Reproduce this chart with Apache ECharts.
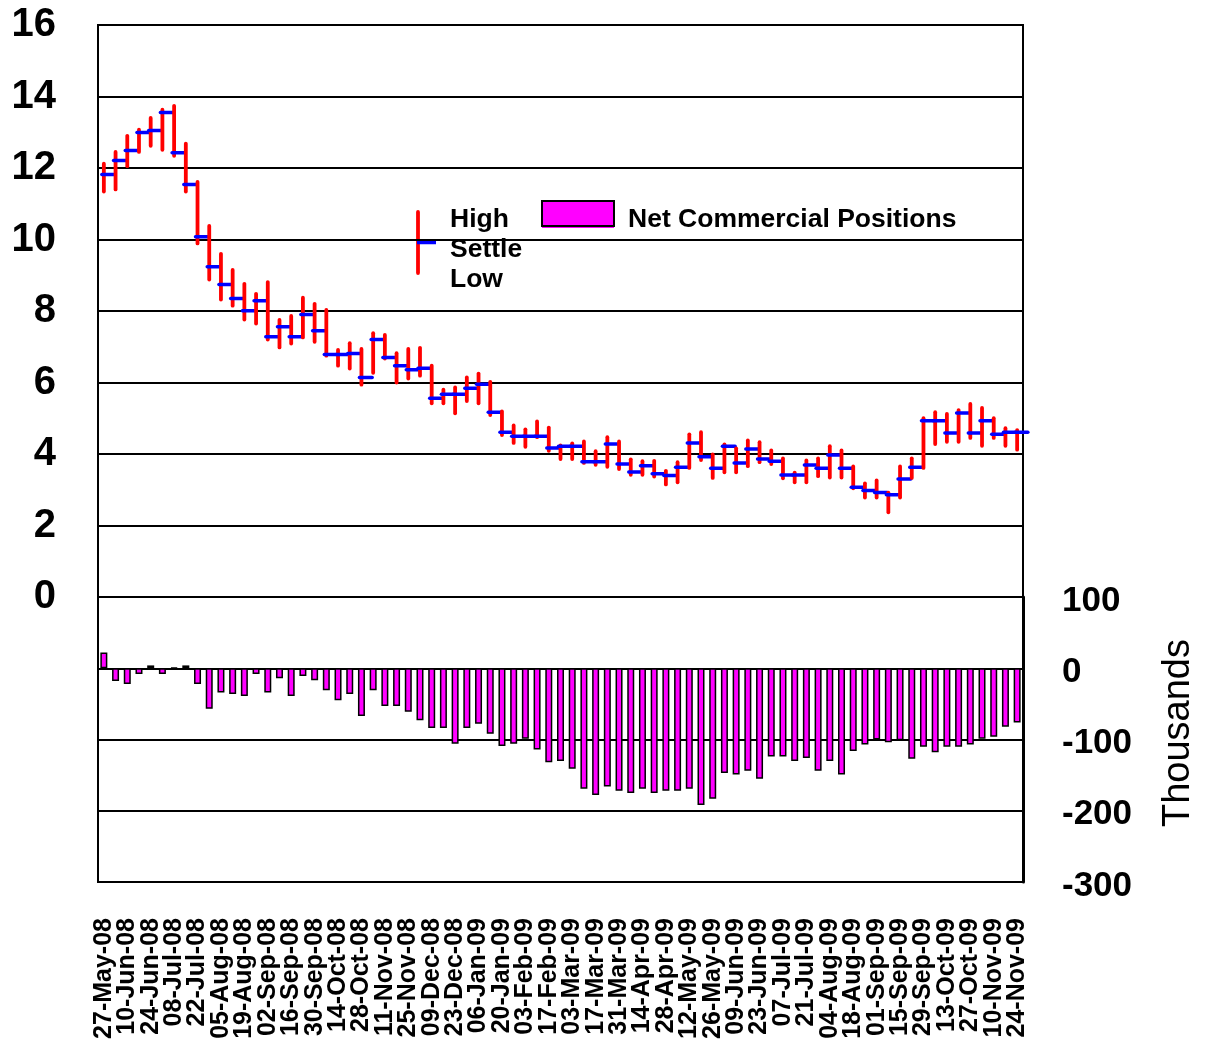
<!DOCTYPE html>
<html>
<head>
<meta charset="utf-8">
<script src="https://cdn.jsdelivr.net/npm/echarts@6/dist/echarts.min.js"></script>
<style>
html,body{margin:0;padding:0;background:#fff;}
#chart{width:1207px;height:1045px;}
</style>
</head>
<body>
<div id="chart"></div>
<script>
var weeks = ["27-May-08","03-Jun-08","10-Jun-08","17-Jun-08","24-Jun-08","01-Jul-08","08-Jul-08","15-Jul-08","22-Jul-08","29-Jul-08",
"05-Aug-08","12-Aug-08","19-Aug-08","26-Aug-08","02-Sep-08","09-Sep-08","16-Sep-08","23-Sep-08","30-Sep-08","07-Oct-08",
"14-Oct-08","21-Oct-08","28-Oct-08","04-Nov-08","11-Nov-08","18-Nov-08","25-Nov-08","02-Dec-08","09-Dec-08","16-Dec-08",
"23-Dec-08","30-Dec-08","06-Jan-09","13-Jan-09","20-Jan-09","27-Jan-09","03-Feb-09","10-Feb-09","17-Feb-09","24-Feb-09",
"03-Mar-09","10-Mar-09","17-Mar-09","24-Mar-09","31-Mar-09","07-Apr-09","14-Apr-09","21-Apr-09","28-Apr-09","05-May-09",
"12-May-09","19-May-09","26-May-09","02-Jun-09","09-Jun-09","16-Jun-09","23-Jun-09","30-Jun-09","07-Jul-09","14-Jul-09",
"21-Jul-09","28-Jul-09","04-Aug-09","11-Aug-09","18-Aug-09","25-Aug-09","01-Sep-09","08-Sep-09","15-Sep-09","22-Sep-09",
"29-Sep-09","06-Oct-09","13-Oct-09","20-Oct-09","27-Oct-09","03-Nov-09","10-Nov-09","17-Nov-09","24-Nov-09"];

var high = [12.12,12.45,12.90,13.07,13.40,13.63,13.74,12.68,11.61,10.38,
9.60,9.15,8.76,8.48,8.81,7.75,7.86,8.37,8.20,8.03,
6.91,7.10,6.94,7.38,7.33,6.82,6.94,6.97,6.47,5.80,
5.86,6.14,6.25,6.02,5.19,4.80,4.69,4.91,4.74,4.24,
4.30,4.35,4.08,4.47,4.35,3.85,3.80,3.81,3.53,3.77,
4.55,4.61,3.99,4.27,4.16,4.38,4.33,4.10,3.88,3.48,
3.82,3.88,4.22,4.10,3.65,3.18,3.26,2.92,3.65,3.88,
5.00,5.17,5.12,5.23,5.40,5.29,5.00,4.72,4.67];

var low = [11.34,11.40,12.05,12.45,12.62,12.51,12.34,11.34,9.89,8.88,
8.32,8.15,7.76,7.65,7.20,6.98,7.09,7.26,7.14,6.75,
6.47,6.39,5.94,6.27,6.67,6.00,6.11,6.19,5.42,5.42,
5.14,5.48,5.42,5.09,4.53,4.31,4.20,4.47,4.09,3.86,
3.86,3.75,3.70,3.64,3.58,3.42,3.42,3.37,3.15,3.21,
3.61,3.83,3.33,3.49,3.49,3.66,3.77,3.72,3.32,3.21,
3.21,3.38,3.34,3.34,3.04,2.78,2.78,2.37,2.78,3.33,
3.61,4.28,4.34,4.34,4.45,4.23,4.45,4.23,4.12];

var settle = [11.82,12.21,12.49,12.99,13.05,13.55,12.43,11.54,10.08,9.24,
8.74,8.35,8.01,8.29,7.28,7.56,7.28,7.90,7.45,6.78,
6.78,6.81,6.14,7.20,6.70,6.47,6.36,6.40,5.56,5.67,
5.67,5.84,5.95,5.17,4.61,4.50,4.50,4.50,4.17,4.22,
4.22,3.78,3.78,4.28,3.72,3.50,3.67,3.45,3.40,3.63,
4.31,3.92,3.60,4.22,3.75,4.14,3.86,3.80,3.41,3.41,
3.69,3.60,3.97,3.60,3.07,2.98,2.92,2.86,3.30,3.63,
4.93,4.93,4.59,5.15,4.59,4.93,4.55,4.61,4.61];

var netCommercial = [22,-18,-22,-8,4,-8,1,4,-22,-57,
-34,-36,-39,-8,-34,-14,-39,-11,-17,-31,
-45,-36,-67,-31,-53,-53,-61,-73,-84,-84,
-106,-84,-78,-92,-109,-106,-99,-114,-132,-130,
-141,-169,-178,-166,-172,-175,-169,-175,-172,-172,
-169,-192,-183,-147,-149,-144,-155,-124,-124,-130,
-126,-144,-130,-149,-116,-107,-100,-104,-101,-127,
-110,-118,-110,-110,-107,-99,-96,-82,-76];

var priceTicks = {min:0, max:16, interval:2};
var posTicks = {min:-300, max:100, interval:100};

var FONT = "'Liberation Sans', Arial, Helvetica, sans-serif";

var ohlc = weeks.map(function(w,i){ return [i, high[i], low[i], settle[i]]; });

var chart = echarts.init(document.getElementById('chart'), null, {renderer:'canvas'});
chart.setOption({
  backgroundColor:'#ffffff',
  animation:false,
  grid:[
    {left:98, right:184, top:25, height:572, show:true, borderColor:'#000', borderWidth:2, backgroundColor:'transparent'},
    {left:98, right:184, top:597, height:285, show:true, borderColor:'#000', borderWidth:2, backgroundColor:'transparent'}
  ],
  xAxis:[
    {type:'category', gridIndex:0, data:weeks, boundaryGap:true,
     axisLine:{show:false}, axisTick:{show:false}, axisLabel:{show:false}, splitLine:{show:false}},
    {type:'category', gridIndex:1, data:weeks, boundaryGap:true,
     axisLine:{show:false}, axisTick:{show:false}, splitLine:{show:false},
     axisLabel:{show:true, interval:0, rotate:90, margin:36, hideOverlap:false,
                formatter:function(v, i){ return i % 2 === 0 ? v : ''; },
                color:'#000', fontFamily:FONT, fontWeight:'bold', fontSize:25, lineHeight:18}}
  ],
  yAxis:[
    {type:'value', gridIndex:0, min:priceTicks.min, max:priceTicks.max, interval:priceTicks.interval,
     axisLine:{show:false}, axisTick:{show:false},
     splitLine:{show:true, lineStyle:{color:'#000', width:2}},
     axisLabel:{color:'#000', fontFamily:FONT, fontWeight:'bold', fontSize:40, margin:42}},
    {type:'value', gridIndex:1, position:'right', min:posTicks.min, max:posTicks.max, interval:posTicks.interval,
     axisLine:{show:true, lineStyle:{color:'#000', width:3}}, axisTick:{show:false},
     splitLine:{show:true, lineStyle:{color:'#000', width:2}},
     axisLabel:{color:'#000', fontFamily:FONT, fontWeight:'bold', fontSize:35, margin:39,
                verticalAlign:'top', lineHeight:8}}
  ],
  series:[
    {type:'bar', name:'Net Commercial Positions', xAxisIndex:1, yAxisIndex:1, data:netCommercial,
     barWidth:7, itemStyle:{color:'#ff00ff', borderColor:'#000', borderWidth:1.5}},
    {type:'custom', name:'High Settle Low', xAxisIndex:0, yAxisIndex:0, data:ohlc, clip:false,
     encode:{x:0, y:[1,2,3]},
     renderItem:function(params, api){
       var hi = api.coord([api.value(0), api.value(1)]);
       var lo = api.coord([api.value(0), api.value(2)]);
       var st = api.coord([api.value(0), api.value(3)]);
       var bw = api.size([1,0])[0];
       return {type:'group', children:[
         {type:'line', shape:{x1:hi[0], y1:hi[1], x2:lo[0], y2:lo[1]},
          style:{stroke:'#ff0000', lineWidth:3.8, lineCap:'round'}},
         {type:'line', shape:{x1:st[0]-2, y1:st[1], x2:st[0]+bw-1, y2:st[1]},
          style:{stroke:'#0000ff', lineWidth:3.5, lineCap:'round'}}
       ]};
     }}
  ],
  graphic:[
    {type:'line', shape:{x1:418, y1:212, x2:418, y2:273}, style:{stroke:'#ff0000', lineWidth:3.8, lineCap:'round'}},
    {type:'line', shape:{x1:417, y1:242.5, x2:436, y2:242.5}, style:{stroke:'#0000ff', lineWidth:3.5}},
    {type:'text', left:450, top:206, style:{text:'High', fill:'#000', font:'bold 26.5px ' + FONT}},
    {type:'text', left:450, top:236, style:{text:'Settle', fill:'#000', font:'bold 26.5px ' + FONT}},
    {type:'text', left:450, top:266, style:{text:'Low', fill:'#000', font:'bold 26.5px ' + FONT}},
    {type:'rect', shape:{x:542, y:226, width:72, height:2}, style:{fill:'#ff00ff'}},
    {type:'rect', shape:{x:542, y:201, width:72, height:25}, style:{fill:'#ff00ff', stroke:'#000', lineWidth:2}},
    {type:'text', left:628, top:206, style:{text:'Net Commercial Positions', fill:'#000', font:'bold 26.5px ' + FONT}},
    {type:'text', x:1179, y:733, rotation:Math.PI/2,
     style:{text:'Thousands', fill:'#000', font:'38px ' + FONT, textAlign:'center', textVerticalAlign:'middle'}}
  ]
});
</script>
</body>
</html>
